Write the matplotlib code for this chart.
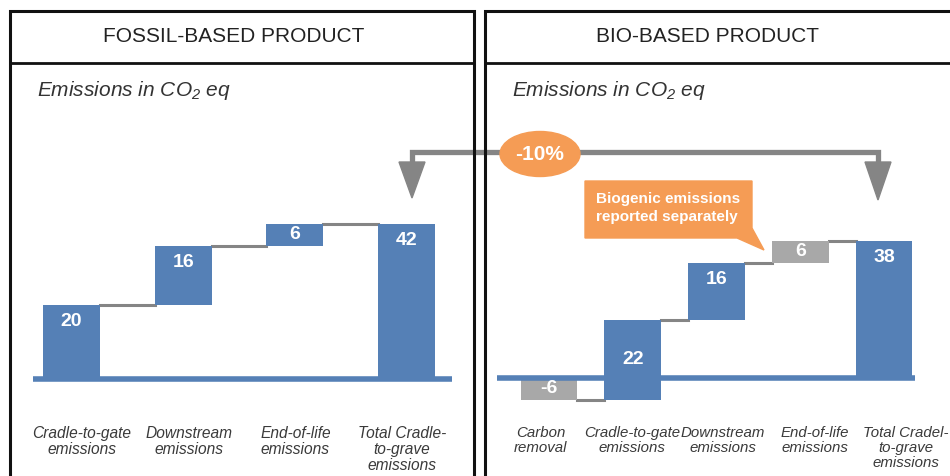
import matplotlib
matplotlib.use('Agg')  # no UI backend
import matplotlib.pyplot as plt
from matplotlib.patches import Ellipse, Polygon

plt.rcParams['font.family'] = ['Liberation Sans', 'DejaVu Sans']
plt.rcParams['mathtext.fontset'] = 'custom'
plt.rcParams['mathtext.rm'] = 'Liberation Sans'
plt.rcParams['mathtext.it'] = 'Liberation Sans:italic'
plt.rcParams['mathtext.default'] = 'regular'

# Data
panel_titles = ['FOSSIL-BASED PRODUCT', 'BIO-BASED PRODUCT']
unit_label = 'Emissions in CO$_2$ eq'

fossil_labels = ['Cradle-to-gate\nemissions', 'Downstream\nemissions',
                 'End-of-life\nemissions', 'Total Cradle-\nto-grave\nemissions']
fossil_values = [20, 16, 6, 42]

bio_labels = ['Carbon\nremoval', 'Cradle-to-gate\nemissions', 'Downstream\nemissions',
              'End-of-life\nemissions', 'Total Cradel-\nto-grave\nemissions']
bio_values = [-6, 22, 16, 6, 38]

change_label = '-10%'
callout_text = 'Biogenic emissions\nreported separately'

# Colours
BLUE = '#5580b6'
GREY_BAR = '#a8a8a8'
GREY_LINE = '#858585'
ORANGE = '#f59c55'
LABEL = '#3a3a3a'

fossil_colors = [BLUE, BLUE, BLUE, BLUE]
bio_colors = [GREY_BAR, BLUE, BLUE, GREY_BAR, BLUE]

W, H = 950, 476
fig = plt.figure(figsize=(W / 100, H / 100), dpi=100)


def px_axes(x0, y0, x1, y1):
    # axes placed by pixel box (top-left origin)
    return fig.add_axes([x0 / W, 1 - y1 / H, (x1 - x0) / W, (y1 - y0) / H])


# Background layer in pixel coordinates
bg = fig.add_axes([0, 0, 1, 1])
bg.set_xlim(0, W)
bg.set_ylim(H, 0)
bg.axis('off')

# Panel frames
frame = dict(color='#111111', lw=2.2, solid_joinstyle='miter')
bg.plot([10, 10, 474, 474], [490, 11, 11, 490], **frame)
bg.plot([10, 474], [63, 63], color='#111111', lw=2)
bg.plot([485, 485, 970], [490, 11, 11], **frame)
bg.plot([485, 970], [63, 63], color='#111111', lw=2)

bg.text(234, 37, panel_titles[0], ha='center', va='center', fontsize=15, color='#222222')
bg.text(708, 37, panel_titles[1], ha='center', va='center', fontsize=15, color='#222222')
bg.text(37, 91, unit_label, ha='left', va='center', fontsize=15, style='italic', color='#333333')
bg.text(512, 91, unit_label, ha='left', va='center', fontsize=15, style='italic', color='#333333')

# Comparison arrow
bg.plot([412, 412, 878, 878], [166, 152, 152, 166], color=GREY_LINE, lw=3.8,
        solid_joinstyle='miter', zorder=1)
bg.add_patch(Polygon([(399, 162), (425, 162), (412, 198)], color=GREY_LINE, zorder=1))
bg.add_patch(Polygon([(865, 162), (891, 162), (878, 200)], color=GREY_LINE, zorder=1))
bg.add_patch(Ellipse((540, 154), 80, 45, color=ORANGE, zorder=3))
bg.text(540, 154, change_label, ha='center', va='center', fontsize=15,
        fontweight='bold', color='white', zorder=4)

# Callout
bg.add_patch(Polygon([(585, 181), (752, 181), (752, 228), (764, 250), (737, 238), (585, 238)],
                     color=ORANGE, zorder=3))
bg.text(668, 208, callout_text, ha='center', va='center', multialignment='left',
        fontsize=11, fontweight='bold', color='white', linespacing=1.3, zorder=4)


def waterfall(ax, values, colors, labels, width, label_step, label_shift, label_size):
    n = len(values)
    x = list(range(n))
    bottoms, heights = [], []
    running = 0
    for i, v in enumerate(values):
        if i == n - 1:
            bottoms.append(0)
        else:
            bottoms.append(running)
            running += v
        heights.append(v)
    ax.bar(x, heights, bottom=bottoms, width=width, color=colors, zorder=2)

    # connectors at running total
    for i in range(n - 1):
        level = bottoms[i] + heights[i]
        ax.plot([i + width / 2, i + 1 - width / 2], [level, level],
                color=GREY_LINE, lw=2.2, zorder=1)

    # value labels
    for i in range(n):
        lo = min(bottoms[i], bottoms[i] + heights[i])
        hi = max(bottoms[i], bottoms[i] + heights[i])
        if hi - lo <= 6 or lo < 0 < hi:
            y = (lo + hi) / 2
        else:
            y = hi - 4.5
        ax.text(i, y, str(values[i]), ha='center', va='center', fontsize=14,
                fontweight='bold', color='white', zorder=4)

    ax.axhline(0, color=BLUE, lw=4, solid_capstyle='round', zorder=3)
    ax.set_xticks([label_shift + label_step * i for i in x])
    ax.set_xticklabels(labels, style='italic', fontsize=label_size, color=LABEL, linespacing=1.12)
    ax.tick_params(axis='x', length=0, pad=4)
    ax.set_yticks([])
    for s in ax.spines.values():
        s.set_visible(False)
    ax.set_facecolor('none')


# Fossil chart: baseline at y=379 px, 3.7 px per unit, bars every 111.7 px from 71.5
ax1 = px_axes(33, 200, 452, 420)
waterfall(ax1, fossil_values, fossil_colors, fossil_labels, 0.51, 0.955, 0.094, 11.2)
ax1.set_xlim((33 - 71.5) / 111.7, (452 - 71.5) / 111.7)
ax1.set_ylim(-(420 - 379) / 3.7, (379 - 200) / 3.7)

# Bio chart: baseline at y=378 px, 3.6 px per unit, bars every 83.75 px from 549
ax2 = px_axes(497, 200, 915, 420)
waterfall(ax2, bio_values, bio_colors, bio_labels, 0.68, 1.09, -0.1, 10.8)
ax2.set_xlim((497 - 549) / 83.75, (915 - 549) / 83.75)
ax2.set_ylim(-(420 - 378) / 3.6, (378 - 200) / 3.6)

plt.savefig('out.png', dpi=100)
